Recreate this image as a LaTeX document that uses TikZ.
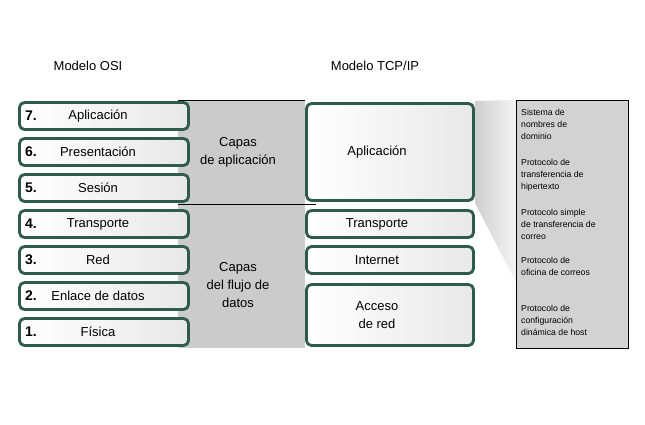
\documentclass[tikz,border=0pt]{standalone}
\usepackage{fontspec}
\setmainfont{Liberation Sans}
\definecolor{layergreen}{HTML}{2F5B4D}
\definecolor{bandgray}{HTML}{CBCBCB}
\definecolor{listgray}{HTML}{D2D2D2}
\begin{document}
\begin{tikzpicture}[
        x=1pt, y=-1pt,
        layer/.style={draw=layergreen, line width=2.8pt, rounded corners=5pt, left color=white, right color=gray!18, minimum width=169pt, minimum height=27pt},
        tcplayer/.style={layer, minimum width=167pt},
        title/.style={font=\fontsize{13}{15}\selectfont},
        num/.style={font=\fontsize{14}{15}\selectfont\bfseries, anchor=west},
        layertext/.style={font=\fontsize{13}{18}\selectfont, align=center},
        proto/.style={font=\fontsize{8.7}{11.7}\selectfont, align=left, anchor=north west, inner sep=0pt}
    ]

    \useasboundingbox (0,0) rectangle (645,424);
    \fill[white] (0,0) rectangle (645,424);

    % band behind the OSI layers
    \fill[bandgray] (178,100) rectangle (305,348);
    \draw[line width=0.8pt] (178,100) -- (305,100);
    \draw[line width=0.8pt] (178,204) -- (316,204);
    \shade[left color=gray!38, right color=gray!8] (475,101) -- (516,100) -- (516,282) -- (475,203) -- cycle;

    \node[title] (osititle) at (88,66) {Modelo OSI};
    \node[title] (tcptitle) at (375,66) {Modelo TCP/IP};

    % OSI
    \node[layer] (osi7) at (104,116) {};
    \node[num] (n7) at ([xshift=3.5pt]osi7.west) {7.};
    \node[layertext] (l7) at ([xshift=-6pt]osi7.center) {Aplicación};
    \node[layer] (osi6) at (104,152) {};
    \node[num] (n6) at ([xshift=3.5pt]osi6.west) {6.};
    \node[layertext] (l6) at ([xshift=-6pt]osi6.center) {Presentación};
    \node[layer] (osi5) at (104,188) {};
    \node[num] (n5) at ([xshift=3.5pt]osi5.west) {5.};
    \node[layertext] (l5) at ([xshift=-6pt]osi5.center) {Sesión};
    \node[layer] (osi4) at (104,224) {};
    \node[num] (n4) at ([xshift=3.5pt]osi4.west) {4.};
    \node[layertext] (l4) at ([xshift=-6pt]osi4.center) {Transporte};
    \node[layer] (osi3) at (104,260) {};
    \node[num] (n3) at ([xshift=3.5pt]osi3.west) {3.};
    \node[layertext] (l3) at ([xshift=-6pt]osi3.center) {Red};
    \node[layer] (osi2) at (104,296) {};
    \node[num] (n2) at ([xshift=3.5pt]osi2.west) {2.};
    \node[layertext] (l2) at ([xshift=-6pt]osi2.center) {Enlace de datos};
    \node[layer] (osi1) at (104,332) {};
    \node[num] (n1) at ([xshift=3.5pt]osi1.west) {1.};
    \node[layertext] (l1) at ([xshift=-6pt]osi1.center) {Física};

    \node[layertext] (capasapp) at (238,152) {Capas\\de aplicación};
    \node[layertext] (capasdatos) at (238,285) {Capas\\del flujo de\\datos};

    % TCP/IP
    \node[tcplayer, minimum height=97pt] (tcpapp) at (390,152) {};
    \node[layertext] (tapp) at ([xshift=-13pt]tcpapp.center) {Aplicación};
    \node[tcplayer] (tcptrans) at (390,224) {};
    \node[layertext] (ttrans) at ([xshift=-13pt]tcptrans.center) {Transporte};
    \node[tcplayer] (tcpnet) at (390,260) {};
    \node[layertext] (tnet) at ([xshift=-13pt]tcpnet.center) {Internet};
    \node[tcplayer, minimum height=61pt] (tcpacc) at (390,315) {};
    \node[layertext] (tacc) at ([xshift=-13pt]tcpacc.center) {Acceso\\de red};

    % protocols
    \node[draw=black, line width=0.6pt, fill=listgray, minimum width=112pt, minimum height=248pt, inner sep=0pt] (protocols) at (572,224) {};
    \node[proto] (dns) at (521,109.3) {Sistema de\\nombres de\\dominio};
    \node[proto] (http) at (521,159.3) {Protocolo de\\transferencia de\\hipertexto};
    \node[proto] (smtp) at (521,209.3) {Protocolo simple\\de transferencia de\\correo};
    \node[proto] (pop) at (521,257.1) {Protocolo de\\oficina de correos};
    \node[proto] (dhcp) at (521,305.1) {Protocolo de\\configuración\\dinámica de host};

\end{tikzpicture}
\end{document}
